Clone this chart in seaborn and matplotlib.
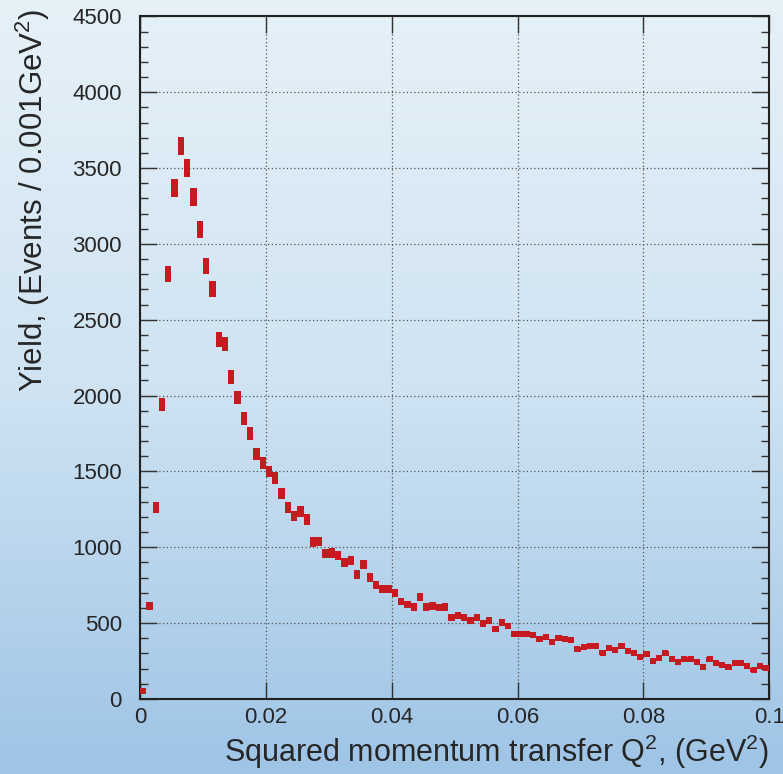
import numpy as np
import matplotlib
matplotlib.use("Agg")
import matplotlib.pyplot as plt
from matplotlib.ticker import MultipleLocator, FuncFormatter
from matplotlib.colors import LinearSegmentedColormap
import seaborn as sns

# yield per 0.001 GeV^2 bin, Q^2 from 0 to 0.1 GeV^2
yields = [55, 614, 1265, 1941, 2801, 3370, 3645, 3502, 3311, 3097,
          2855, 2702, 2368, 2340, 2120, 1989, 1847, 1752, 1616, 1555,
          1500, 1458, 1353, 1265, 1206, 1237, 1184, 1035, 1039, 958,
          963, 948, 898, 914, 822, 888, 800, 750, 724, 724,
          702, 643, 623, 607, 673, 607, 614, 603, 607, 537,
          548, 537, 515, 537, 498, 520, 463, 504, 482, 428,
          428, 428, 421, 398, 408, 375, 401, 393, 388, 327,
          344, 351, 349, 305, 333, 322, 349, 318, 300, 274,
          296, 250, 268, 300, 263, 241, 263, 263, 241, 213,
          263, 235, 224, 208, 235, 235, 217, 191, 217, 206]
bin_width = 0.001
x_ticks = [0, 0.02, 0.04, 0.06, 0.08, 0.1]

q2 = (np.arange(len(yields)) + 0.5) * bin_width
y = np.array(yields, dtype=float)
err = np.sqrt(y)

sns.set_theme(style="ticks")
plt.rcParams['font.family'] = ['Liberation Sans', 'DejaVu Sans']
plt.rcParams['mathtext.default'] = 'regular'

red = '#c41a20'

fig = plt.figure(figsize=(7.83, 7.74), dpi=100)

# fundo em degradê
bg = fig.add_axes([0, 0, 1, 1], zorder=-10)
cmap = LinearSegmentedColormap.from_list('bg', ['#e6f1f8', '#cfe3f2', '#9ec4e6'])
bg.imshow(np.linspace(0, 1, 256).reshape(-1, 1), aspect='auto', cmap=cmap,
          extent=[0, 1, 0, 1])
bg.set_axis_off()

ax = fig.add_axes([0.1788, 0.0969, 0.8037, 0.8818])
ax.set_facecolor('none')

# caixas de erro + marcadores
ax.bar(q2, 2 * err, bottom=y - err, width=bin_width, color=red,
       linewidth=0, zorder=3)
sns.scatterplot(x=q2, y=y, marker='s', s=24, color=red, linewidth=0,
                ax=ax, zorder=3)

ax.set_xlim(0, 0.1)
ax.set_ylim(0, 4500)
ax.set_xticks(x_ticks)
ax.xaxis.set_major_formatter(FuncFormatter(lambda v, p: f'{v:g}'))
ax.yaxis.set_major_locator(MultipleLocator(500))
ax.yaxis.set_minor_locator(MultipleLocator(100))

ax.grid(True, which='major', color='#555555', linestyle=(0, (1, 2)),
        linewidth=0.9)
ax.set_axisbelow(True)

for s in ax.spines.values():
    s.set_color('#222222')
    s.set_linewidth(1.5)

ax.tick_params(which='both', direction='in', top=True, right=True,
               color='#333333', width=1, labelsize=16)
ax.tick_params(which='major', length=12)
ax.tick_params(which='minor', length=6)
ax.tick_params(axis='y', pad=13)
ax.tick_params(axis='x', pad=6)

ax.set_xlabel(r'Squared momentum transfer Q$^2$, (GeV$^2$)', fontsize=22)
ax.set_ylabel(r'Yield, (Events / 0.001GeV$^2$)', fontsize=22.5)
ax.xaxis.set_label_coords(0.5665, -0.05)
ax.yaxis.set_label_coords(-0.14, 0.73)

plt.savefig('out.png', dpi=100)
